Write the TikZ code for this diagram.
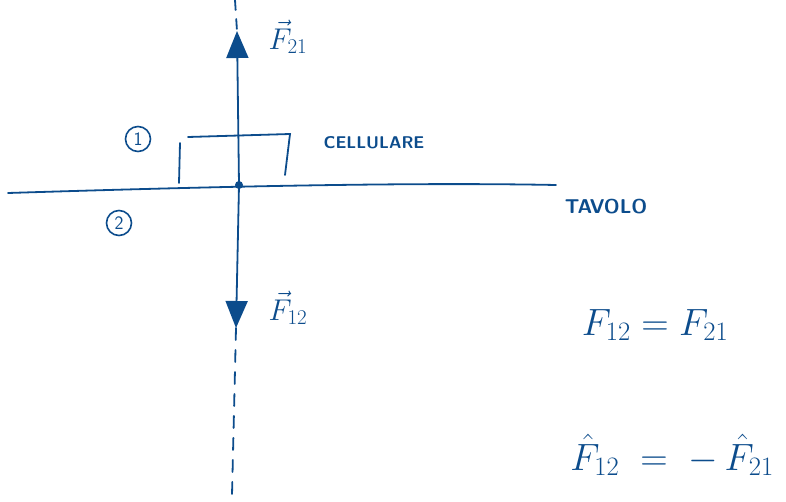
\documentclass[tikz,border=0pt]{standalone}
\usepackage{fix-cm}
\usetikzlibrary{arrows.meta}
\definecolor{ink}{RGB}{12,76,140}
\begin{document}
\begin{tikzpicture}[x=1pt,y=-1pt,
  pen/.style={draw=ink,line width=1.8pt,line cap=round},
  force/.style={pen,-{Triangle[width=22pt,length=27pt]}},
  lbl/.style={text=ink,inner sep=1pt,font=\fontsize{30}{34}\selectfont},
  eq/.style={text=ink,inner sep=1pt,font=\fontsize{38}{42}\selectfont},
  word/.style={text=ink,inner sep=1pt,font=\sffamily\bfseries\fontsize{17}{20}\selectfont},
  circnum/.style={draw=ink,line width=1.6pt,circle,minimum size=25pt,inner sep=0pt,text=ink,font=\sffamily\fontsize{19}{21}\selectfont}]
\useasboundingbox (0,0) rectangle (786,502);
% points
\coordinate (O) at (239,185);
\coordinate (top) at (237,31);
\coordinate (bot) at (236,328);
\coordinate (dtop) at (235,0);
\coordinate (dbot) at (232,495);
\coordinate (tl) at (8,193);
\coordinate (tr) at (556,185);
% table
\draw[pen] (tl) .. controls (200,187) and (400,182) .. (tr);
% dashed continuation
\draw[pen,dash pattern=on 10pt off 9pt] (dtop) -- (top);
\draw[pen,dash pattern=on 12pt off 10pt] (bot) -- (dbot);
% forces
\draw[force] (O) -- (top);
\draw[force] (O) -- (bot);
\fill[ink] (O) circle (4pt);
% phone
\coordinate (p1) at (180,143);
\coordinate (p2) at (179,183);
\coordinate (p3) at (188,137);
\coordinate (p4) at (290,134);
\coordinate (p5) at (285,175);
\draw[pen] (p1) -- (p2);
\draw[pen] (p3) -- (p4) -- (p5);
% labels
\node[circnum] (c1) at (138,139) {1};
\node[circnum] (c2) at (119,223) {2};
\node[word] (cell) at (374,143) {CELLULARE};
\node[word,font=\sffamily\bfseries\fontsize{20}{22}\selectfont] (tav) at (606,207) {TAVOLO};
\node[lbl] (f21) at (288,37) {$\vec F_{21}$};
\node[lbl] (f12) at (288,308) {$\vec F_{12}$};
\node[eq] (eq1) at (655,325) {$F_{12}=F_{21}$};
\node[eq] (eq2) at (672,455) {$\hat F_{12}\;=\;-\,\hat F_{21}$};
\end{tikzpicture}
\end{document}
